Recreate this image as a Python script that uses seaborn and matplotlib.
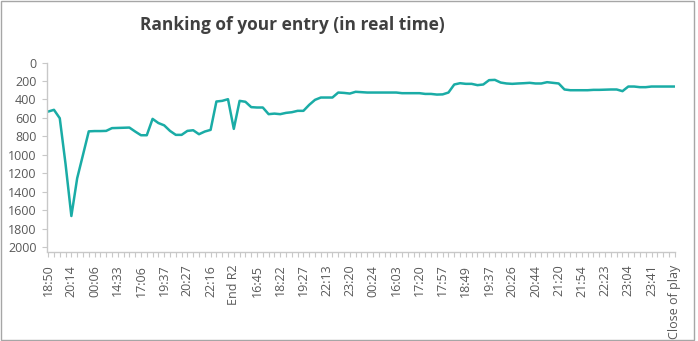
import matplotlib
matplotlib.use("Agg")
import matplotlib.pyplot as plt
import seaborn as sns
import pandas as pd
from matplotlib.patches import Rectangle

# Ranking snapshots over the competition (lower number = better rank)
ranks = [
    531, 512, 603, 1100, 1661, 1253, 1000, 745, 742, 742,
    740, 710, 708, 706, 704, 747, 787, 787, 610, 655,
    680, 740, 783, 783, 740, 733, 776, 747, 729, 422,
    415, 397, 718, 415, 425, 483, 487, 487, 559, 553,
    559, 545, 538, 523, 523, 458, 404, 379, 379, 379,
    325, 329, 336, 317, 321, 325, 325, 325, 325, 325,
    325, 332, 332, 332, 332, 340, 340, 347, 345, 325,
    238, 224, 231, 231, 245, 238, 191, 188, 217, 227,
    231, 227, 224, 220, 227, 227, 213, 220, 227, 292,
    300, 300, 300, 300, 296, 296, 294, 292, 292, 310,
    260, 260, 267, 267, 260, 260, 260, 260, 260,
]

# Labels shown on every fourth snapshot
tick_labels = [
    "18:50", "20:14", "00:06", "14:33", "17:06", "19:37", "20:27", "22:16",
    "End R2", "16:45", "18:22", "19:27", "22:13", "23:20", "00:24", "16:03",
    "17:20", "17:57", "18:49", "19:37", "20:26", "20:44", "21:20", "21:54",
    "22:23", "23:04", "23:41", "Close of play",
]
label_step = 4

y_ticks = [0, 200, 400, 600, 800, 1000, 1200, 1400, 1600, 1800, 2000]

df = pd.DataFrame({"snapshot": range(len(ranks)), "rank": ranks})

sns.set_theme(style="white")
plt.rcParams["font.family"] = ["Open Sans", "DejaVu Sans"]

W, H = 698, 341
fig = plt.figure(figsize=(W / 100, H / 100), dpi=100)
ax = fig.add_axes([47 / W, 1 - 251.5 / H, (675 - 47) / W, (251.5 - 62.5) / H])

sns.lineplot(data=df, x="snapshot", y="rank", ax=ax, color="#1aaca6",
             linewidth=1.8, legend=False)

n = len(ranks)
ax.set_xlim(-0.2, n - 1 + 0.05)
ax.set_ylim(2045, 0)

ax.set_xticks(range(0, n, label_step))
ax.set_xticklabels(tick_labels, rotation=90)
ax.set_xticks(range(n), minor=True)
ax.set_yticks(y_ticks)
ax.set_yticklabels([str(v) for v in y_ticks])

ax.set_xlabel("")
ax.set_ylabel("")

for side in ("top", "right"):
    ax.spines[side].set_visible(False)
for side in ("left", "bottom"):
    ax.spines[side].set_color("#c8c8c8")
    ax.spines[side].set_linewidth(1.0)

ax.tick_params(axis="x", which="both", direction="out", length=3.5, width=0.8,
               color="#c8c8c8", bottom=True, pad=6)
ax.tick_params(axis="x", which="major", labelsize=9, labelcolor="#595959")
ax.tick_params(axis="y", which="major", direction="out", length=3.5, width=0.8,
               color="#c8c8c8", left=True, labelsize=9, labelcolor="#595959",
               pad=4)
ax.grid(False)

fig.text(292 / W, 1 - 25 / H, "Ranking of your entry (in real time)",
         ha="center", va="center", fontsize=12.5, fontweight="bold",
         color="#404040")

# Chart frame
fig.patches.append(Rectangle((1 / W, 1 / H), 693 / W, 1 - 1.5 / H,
                             transform=fig.transFigure, fill=False,
                             edgecolor="#a6a6a6", linewidth=1.0))

fig.savefig("out.png", dpi=100)
